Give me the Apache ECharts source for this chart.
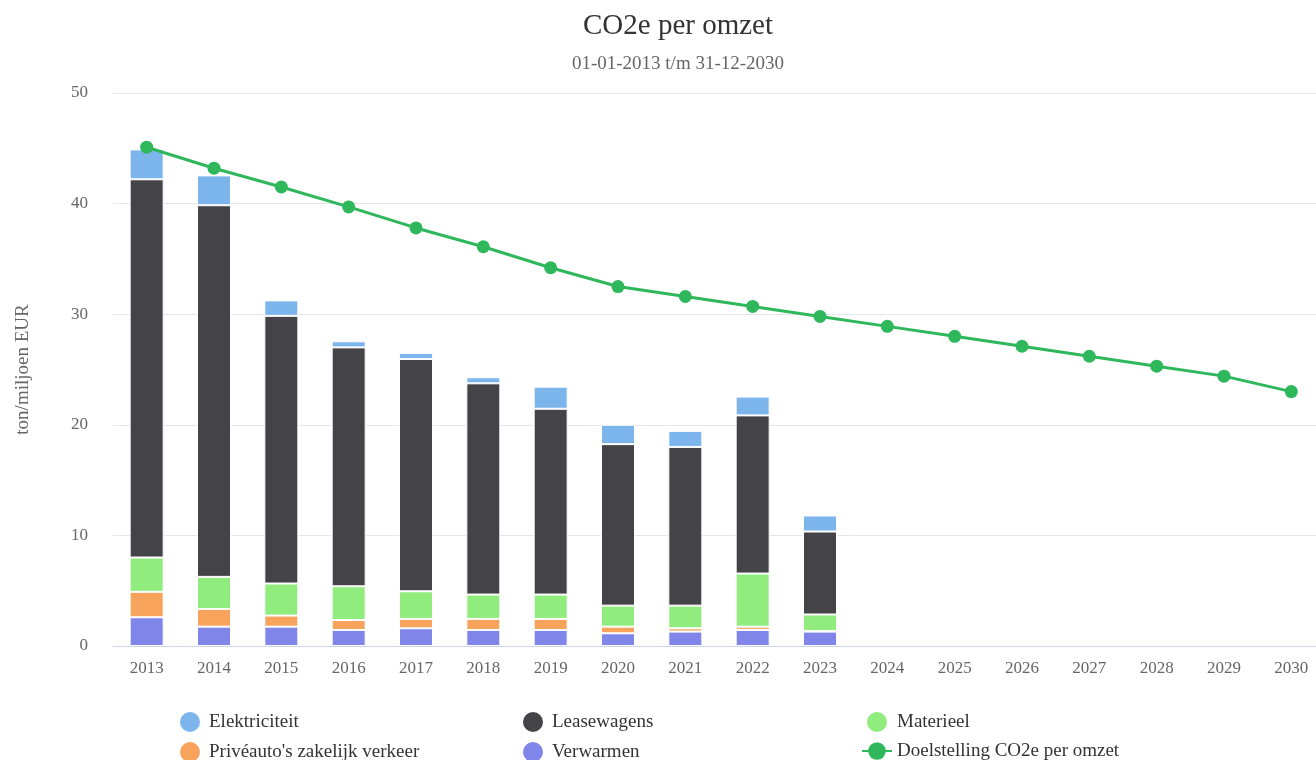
<!DOCTYPE html>
<html><head><meta charset="utf-8">
<script src="https://cdn.jsdelivr.net/npm/echarts@6/dist/echarts.min.js"></script>
<style>html,body{margin:0;padding:0;background:#fff}#c{width:1316px;height:760px}</style>
</head><body><div id="c"></div>
<script>
const years = ['2013','2014','2015','2016','2017','2018','2019','2020','2021','2022','2023','2024','2025','2026','2027','2028','2029','2030'];
const verwarmen   = [2.6, 1.75, 1.75, 1.45, 1.6, 1.45, 1.45, 1.15, 1.3, 1.45, 1.3];
const priveauto   = [2.3, 1.6, 1.0, 0.9, 0.85, 1.0, 1.0, 0.6, 0.3, 0.3, 0.05];
const materieel   = [3.1, 2.9, 2.9, 3.05, 2.5, 2.2, 2.2, 1.9, 2.05, 4.8, 1.5];
const leasewagens = [34.2, 33.6, 24.2, 21.6, 21.0, 19.1, 16.8, 14.6, 14.35, 14.3, 7.5];
const elektriciteit = [2.7, 2.7, 1.4, 0.55, 0.55, 0.55, 2.0, 1.75, 1.45, 1.7, 1.45];
const doelstelling = [45.1, 43.2, 41.5, 39.7, 37.8, 36.1, 34.2, 32.5, 31.6, 30.7, 29.8, 28.9, 28.0, 27.1, 26.2, 25.3, 24.4, 23.0];

const FONT = '"Liberation Serif", "DejaVu Serif", serif';
const chart = echarts.init(document.getElementById('c'));
const barBase = {type:'bar', stack:'total', barWidth: 34, emphasis:{disabled:true}};
const legendText = {fontFamily: FONT, fontSize: 19, color: '#333', lineHeight: 22};
const legendBase = {orient:'vertical', top: 710, height: 60, padding: 0, itemGap: 6, itemWidth: 28, itemHeight: 22, textStyle: legendText, selectedMode: false};
chart.setOption({
  animation: false,
  textStyle: {fontFamily: FONT},
  title: {
    text: 'CO2e per omzet', subtext: '01-01-2013 t/m 31-12-2030', left: 673, textAlign: 'center', top: 7,
    textStyle: {fontFamily: FONT, fontSize: 29, fontWeight: 'normal', color: '#333'},
    subtextStyle: {fontFamily: FONT, fontSize: 19, color: '#666'}, itemGap: 14
  },
  legend: [
    Object.assign({}, legendBase, {left: 178,
     data: [{name:'Elektriciteit', icon:'circle'}, {name:"Privéauto's zakelijk verkeer", icon:'circle'}]}),
    Object.assign({}, legendBase, {left: 521,
     data: [{name:'Leasewagens', icon:'circle'}, {name:'Verwarmen', icon:'circle'}]}),
    Object.assign({}, legendBase, {left: 861, itemWidth: 30,
     data: [{name:'Materieel', icon:'circle'}, {name:'Doelstelling CO2e per omzet'}]})
  ],
  grid: {left: 113, width: 1212, top: 93, bottom: 114, containLabel: false, outerBoundsMode: 'none'},
  xAxis: {
    type: 'category', data: years,
    axisLine: {lineStyle: {color: '#ccd6eb'}},
    axisTick: {show: false},
    axisLabel: {fontFamily: FONT, fontSize: 17, color: '#666', margin: 14}
  },
  yAxis: {
    type: 'value', min: 0, max: 50, interval: 10,
    name: 'ton/miljoen EUR', nameLocation: 'middle', nameGap: 80, nameRotate: 90,
    nameTextStyle: {fontFamily: FONT, fontSize: 19, color: '#666'},
    axisLabel: {fontFamily: FONT, fontSize: 17, color: '#666', margin: 25},
    splitLine: {lineStyle: {color: '#e6e6e6'}}
  },
  series: [
    Object.assign({}, barBase, {name:'Verwarmen', data: verwarmen, itemStyle:{color:'#8085e9', borderColor:'#fff', borderWidth:1}}),
    Object.assign({}, barBase, {name:"Privéauto's zakelijk verkeer", data: priveauto, itemStyle:{color:'#f7a35c', borderColor:'#fff', borderWidth:1}}),
    Object.assign({}, barBase, {name:'Materieel', data: materieel, itemStyle:{color:'#90ed7d', borderColor:'#fff', borderWidth:1}}),
    Object.assign({}, barBase, {name:'Leasewagens', data: leasewagens, itemStyle:{color:'#434348', borderColor:'#fff', borderWidth:1}}),
    Object.assign({}, barBase, {name:'Elektriciteit', data: elektriciteit, itemStyle:{color:'#7cb5ec', borderColor:'#fff', borderWidth:1}}),
    {name:'Doelstelling CO2e per omzet', type:'line', data: doelstelling, symbol:'circle', symbolSize: 13,
     lineStyle:{color:'#2fb75c', width:3}, itemStyle:{color:'#2fb75c'}, z: 5, emphasis:{disabled:true}}
  ]
});
</script></body></html>
